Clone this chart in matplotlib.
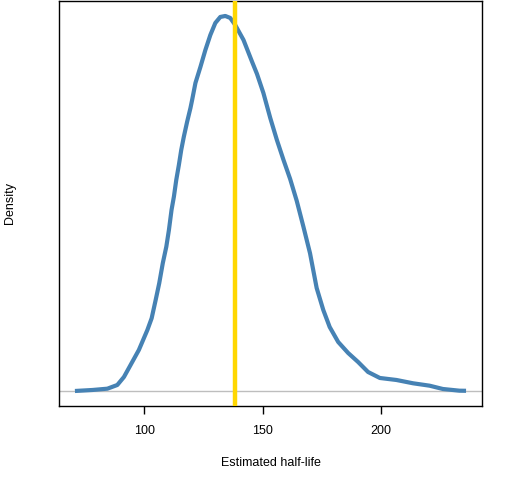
import matplotlib
matplotlib.use("Agg")
import matplotlib.pyplot as plt

plt.rcParams['font.family'] = ['Liberation Sans', 'DejaVu Sans']

# Density curve (x = half-life, y = relative density, peak = 375 units)
half_life = [70.7, 78.1, 84.4, 88.6, 91.4, 94.2, 97.7, 101.3, 103.1, 104.8, 106.3,
             107.8, 109.3, 110.4, 111.5, 112.5, 113.5, 114.6, 115.6, 116.7, 118.1,
             119.5, 120.2, 121.6, 123.7, 125.8, 127.9, 130.0, 132.1, 134.2, 136.3,
             138.4, 141.9, 145.5, 147.6, 150.3, 153.2, 156.0, 158.8, 161.6, 164.4,
             167.2, 170.0, 172.8, 175.6, 178.3, 181.9, 186.1, 190.3, 194.5, 199.5,
             206.5, 213.5, 220.5, 226.1, 233.1, 235.9]
density_raw = [0, 1, 2.3, 6, 14, 26, 41, 61, 72.7, 91, 107.7,
               127.7, 144.3, 161, 181, 194.3, 211, 226, 241, 254.3, 269.3,
               283, 291, 308, 324, 341, 356, 368, 374, 375, 373,
               366, 351, 329.3, 317, 298, 273, 251, 231, 212, 190,
               164.3, 137.7, 103, 81, 64, 49, 38, 29, 19, 13,
               11, 7.7, 5.3, 2, 0.3, 0.2]
density = [d / 375 * 0.016 for d in density_raw]
estimate = 138.1
xticks = [100, 150, 200]

fig = plt.figure(figsize=(5.12, 4.8), dpi=100)
ax = fig.add_axes([0.1158, 0.1542, 0.8250, 0.8438])

ax.axhline(0, color='#BEBEBE', lw=1.0, zorder=1)
ax.plot(half_life, density, color='#4682B4', lw=3.0, zorder=2,
        solid_joinstyle='round', solid_capstyle='butt')
ax.axvline(estimate, color='#FFD700', lw=3.2, zorder=3)

xmin, xmax = min(half_life), max(half_life)
w = xmax - xmin
ax.set_xlim(xmin - 0.04 * w, xmax + 0.04 * w)
ymax = max(density)
ax.set_ylim(-0.04 * ymax, 1.04 * ymax)

ax.set_xticks(xticks)
ax.set_xticklabels([str(t) for t in xticks], fontsize=9)
ax.set_yticks([])
ax.tick_params(axis='x', length=6, width=1, pad=8, color='black')
for s in ax.spines.values():
    s.set_linewidth(1.0)
    s.set_color('black')

ax.set_xlabel('Estimated half-life', fontsize=9, labelpad=14)
fig.text(0.02, 0.5765, 'Density', rotation=90, fontsize=9, ha='center', va='center')

fig.savefig('out.png', dpi=100)
